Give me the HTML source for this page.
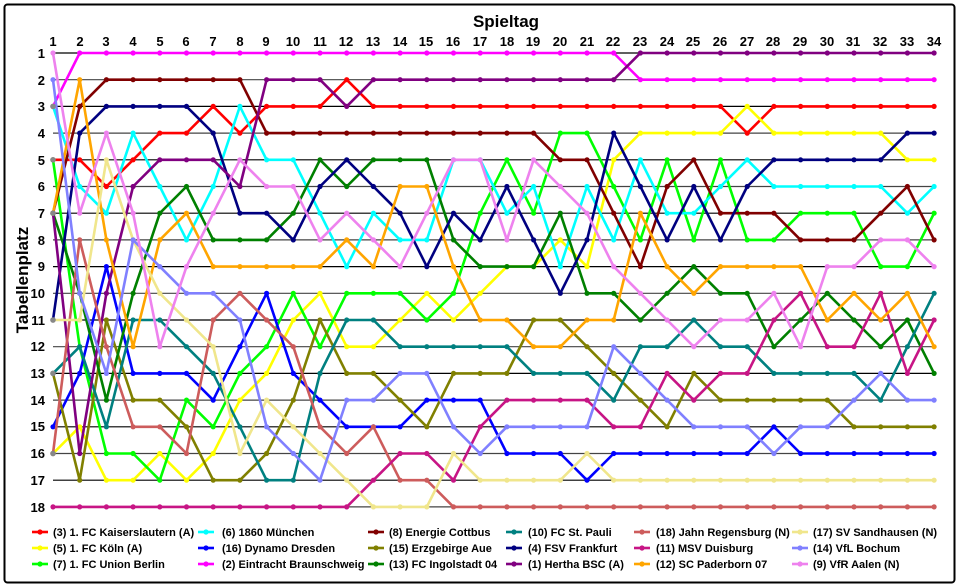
<!DOCTYPE html>
<html><head><meta charset="utf-8"><style>
html,body{margin:0;padding:0;background:#fff;}
svg{display:block;font-family:"Liberation Sans",sans-serif;font-weight:bold;}
</style></head><body>
<svg id="s" width="960" height="587" viewBox="0 0 960 587" xmlns="http://www.w3.org/2000/svg">
<rect x="4.5" y="4.5" width="950" height="578" rx="3" fill="#fff" stroke="#000" stroke-width="2"/>
<text x="506" y="27" font-size="17" text-anchor="middle">Spieltag</text>
<text transform="translate(28,280) rotate(-90)" font-size="17" text-anchor="middle">Tabellenplatz</text>
<g id="grid"></g>
<g id="xt" font-size="13" text-anchor="middle">
<text x="53" y="46">1</text><text x="80" y="46">2</text><text x="106" y="46">3</text><text x="133" y="46">4</text><text x="160" y="46">5</text><text x="186" y="46">6</text><text x="213" y="46">7</text><text x="240" y="46">8</text><text x="266" y="46">9</text><text x="293" y="46">10</text><text x="320" y="46">11</text><text x="346" y="46">12</text><text x="373" y="46">13</text><text x="400" y="46">14</text><text x="426" y="46">15</text><text x="453" y="46">16</text><text x="480" y="46">17</text><text x="507" y="46">18</text><text x="533" y="46">19</text><text x="560" y="46">20</text><text x="587" y="46">21</text><text x="613" y="46">22</text><text x="640" y="46">23</text><text x="667" y="46">24</text><text x="693" y="46">25</text><text x="720" y="46">26</text><text x="747" y="46">27</text><text x="773" y="46">28</text><text x="800" y="46">29</text><text x="827" y="46">30</text><text x="853" y="46">31</text><text x="880" y="46">32</text><text x="907" y="46">33</text><text x="934" y="46">34</text>
</g>
<g id="yt" font-size="13" text-anchor="end">
<text x="45" y="58">1</text><text x="45" y="85">2</text><text x="45" y="111">3</text><text x="45" y="138">4</text><text x="45" y="165">5</text><text x="45" y="191">6</text><text x="45" y="218">7</text><text x="45" y="245">8</text><text x="45" y="271">9</text><text x="45" y="298">10</text><text x="45" y="325">11</text><text x="45" y="351">12</text><text x="45" y="378">13</text><text x="45" y="405">14</text><text x="45" y="431">15</text><text x="45" y="458">16</text><text x="45" y="485">17</text><text x="45" y="512">18</text>
</g>
<g id="ser"></g>
<g id="leg" font-size="11">
<text x="53" y="536">(3) 1. FC Kaiserslautern (A)</text>
<text x="53" y="552">(5) 1. FC Köln (A)</text>
<text x="53" y="568">(7) 1. FC Union Berlin</text>
<text x="222" y="536">(6) 1860 München</text>
<text x="222" y="552">(16) Dynamo Dresden</text>
<text x="222" y="568">(2) Eintracht Braunschweig</text>
<text x="389" y="536">(8) Energie Cottbus</text>
<text x="389" y="552">(15) Erzgebirge Aue</text>
<text x="389" y="568">(13) FC Ingolstadt 04</text>
<text x="528" y="536">(10) FC St. Pauli</text>
<text x="528" y="552">(4) FSV Frankfurt</text>
<text x="528" y="568">(1) Hertha BSC (A)</text>
<text x="656" y="536">(18) Jahn Regensburg (N)</text>
<text x="656" y="552">(11) MSV Duisburg</text>
<text x="656" y="568">(12) SC Paderborn 07</text>
<text x="813" y="536">(17) SV Sandhausen (N)</text>
<text x="813" y="552">(14) VfL Bochum</text>
<text x="813" y="568">(9) VfR Aalen (N)</text>
</g>
<g id="legm"></g>
</svg>
<script>
var NS="http://www.w3.org/2000/svg";
function X(d){return 53+(d-1)*26.7;}
function Y(r){return 53+(r-1)*26.7;}
function el(t,a,p){var e=document.createElementNS(NS,t);for(var k in a)e.setAttribute(k,a[k]);p.appendChild(e);return e;}
var g=document.getElementById('grid');
for(var r=1;r<=18;r++)el('line',{x1:53,x2:934,y1:Y(r),y2:Y(r),stroke:(r%2?'#000':'#444'),'stroke-width':1.2},g);
function rep(v,n){var a=[];for(var i=0;i<n;i++)a.push(v);return a;}
var S=[
['#ff0000',[5,5,6,5,4,4,3,4,3,3,3,2,3,3,3,3,3,3,3,3,3,3,3,3,3,3,4,3,3,3,3,3,3,3]],
['#ffff00',[16,15,17,17,16,17,16,14,13,11,10,12,12,11,10,11,10,9,9,8,9,5,4,4,4,4,3,4,4,4,4,4,5,5]],
['#00ff00',[5,12,16,16,17,14,15,13,12,10,12,10,10,10,11,10,7,5,7,4,4,6,8,5,8,5,8,8,7,7,7,9,9,7]],
['#00ffff',[3,6,7,4,6,8,6,3,5,5,7,9,7,8,8,5,5,7,6,9,6,8,5,7,7,6,5,6,6,6,6,6,7,6]],
['#0000ff',[15,13,9,13,13,13,14,12,10,13,14,15,15,15,14,14,14,16,16,16,17,16,16,16,16,16,16,15,16,16,16,16,16,16]],
['#ff00ff',[3].concat(rep(1,21),rep(2,12))],
['#800000',[7,3,2,2,2,2,2,2,4,4,4,4,4,4,4,4,4,4,4,5,5,7,9,6,5,7,7,7,8,8,8,7,6,8]],
['#808000',[13,17,11,14,14,15,17,17,16,14,11,13,13,14,15,13,13,13,11,11,12,13,14,15,13,14,14,14,14,14,15,15,15,15]],
['#008000',[7,10,14,10,7,6,8,8,8,7,5,6,5,5,5,8,9,9,9,7,10,10,11,10,9,10,10,12,11,10,11,12,11,13]],
['#008080',[13,12,15,11,11,12,13,15,17,17,13,11,11,12,12,12,12,12,13,13,13,14,12,12,11,12,12,13,13,13,13,14,12,10]],
['#000080',[11,4,3,3,3,3,4,7,7,8,6,5,6,7,9,7,8,6,8,10,8,4,6,8,6,8,6,5,5,5,5,5,4,4]],
['#800080',[7,16,10,6,5,5,5,6,2,2,2,3,2,2,2,2,2,2,2,2,2,2].concat(rep(1,12))],
['#cd5c5c',[16,8,12,15,15,16,11,10,11,12,15,16,15,17,17].concat(rep(18,19))],
['#c71585',rep(18,12).concat([17,16,16,17,15,14,14,14,14,15,15,13,14,13,13,11,10,12,12,10,13,11])],
['#ffa500',[7,2,8,12,8,7,9,9,9,9,9,8,9,6,6,9,11,11,12,12,11,11,7,9,10,9,9,9,9,11,10,11,10,12]],
['#f0e68c',[11,11,5,8,10,11,12,16,14,15,16,17,18,18,18,16,17,17,17,17,16].concat(rep(17,13))],
['#8080ff',[2,10,13,8,9,10,10,11,15,16,17,14,14,13,13,15,16,15,15,15,15,12,13,14,15,15,15,16,15,15,14,13,14,14]],
['#ee82ee',[1,7,4,7,12,9,7,5,6,6,8,7,8,9,7,5,5,8,5,6,7,9,10,11,12,11,11,10,12,9,9,8,8,9]]
];
var sg=document.getElementById('ser');
S.forEach(function(s){
  var pts=s[1].map(function(r,i){return X(i+1).toFixed(1)+','+Y(r).toFixed(1);}).join(' ');
  el('polyline',{points:pts,fill:'none',stroke:s[0],'stroke-width':2.6,'stroke-linejoin':'round'},sg);
  s[1].forEach(function(r,i){el('circle',{cx:X(i+1),cy:Y(r),r:2.6,fill:s[0]},sg);});
});
[3,5,7,11,13,16].forEach(function(r){el('circle',{cx:X(1),cy:Y(r),r:2.8,fill:'#888'},sg);});
var lm=document.getElementById('legm');
var cols=[32,198,368,506,634,792];
S.forEach(function(s,i){
  var c=Math.floor(i/3),row=i%3,x=cols[c],y=532+row*16;
  el('line',{x1:x,x2:x+16,y1:y,y2:y,stroke:s[0],'stroke-width':2.6},lm);
  el('circle',{cx:x+8,cy:y,r:2.6,fill:s[0]},lm);
});
</script>
</body></html>
